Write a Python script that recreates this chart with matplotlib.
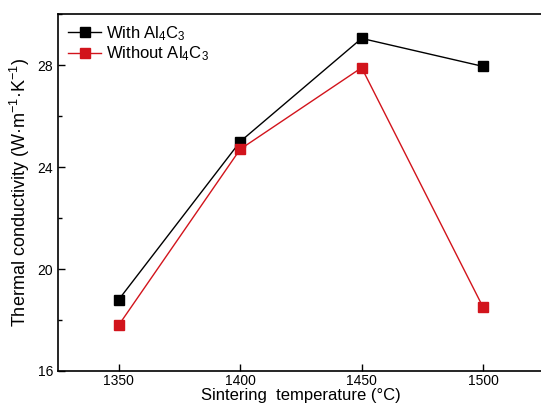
import matplotlib.pyplot as plt
from matplotlib.ticker import MultipleLocator

plt.rcParams['font.family'] = ['Liberation Sans', 'DejaVu Sans']
plt.rcParams['mathtext.default'] = 'regular'

# Data
temps = [1350, 1400, 1450, 1500]
with_al4c3 = [18.8, 25.0, 29.05, 27.95]
without_al4c3 = [17.8, 24.7, 27.9, 18.5]

fig = plt.figure(figsize=(5.41, 4.05), dpi=100)
ax = fig.add_axes([0.1072, 0.084, 0.898, 0.881])

ax.plot(temps, with_al4c3, color='black', lw=1, marker='s', ms=7,
        mec='black', mfc='black', label='With Al$_4$C$_3$')
ax.plot(temps, without_al4c3, color='#d2141c', lw=1, marker='s', ms=7,
        mec='#d2141c', mfc='#d2141c', label='Without Al$_4$C$_3$')

ax.set_xlim(1325, 1525)
ax.set_ylim(16, 30)
ax.set_xticks(temps)
ax.yaxis.set_major_locator(MultipleLocator(4))
ax.yaxis.set_minor_locator(MultipleLocator(2))
ax.tick_params(which='both', direction='in', labelsize=10, width=1)
ax.tick_params(axis='x', pad=2)
ax.tick_params(which='major', length=5)
ax.tick_params(which='minor', length=3)
for s in ax.spines.values():
    s.set_linewidth(1.2)

ax.set_xlabel('Sintering  temperature (°C)', fontsize=12, labelpad=0)
ax.set_ylabel('Thermal conductivity (W·m$^{-1}$·K$^{-1}$)', fontsize=13, labelpad=4)

ax.legend(loc='upper left', frameon=False, fontsize=12, handlelength=2,
          borderaxespad=0.2, labelspacing=0.1, handletextpad=0.3)

fig.savefig('out.png', dpi=100)
